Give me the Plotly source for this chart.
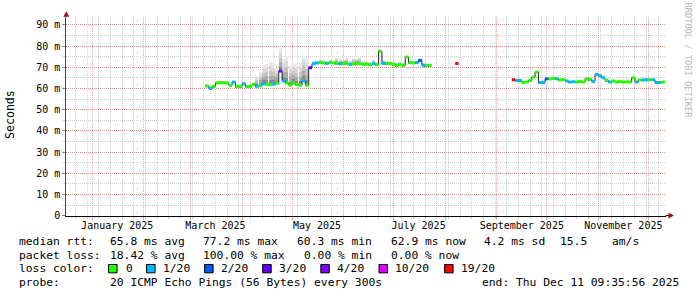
import plotly.graph_objects as go
import pandas as pd

W, H = 697, 297
YS = 4.0  # vertical correction


def px(x):
    return x / W


def py(y):
    return 1 - (y + YS) / H


# ---------------- data ----------------
x_start = "2024-12-16 09:35:56"
x_end = "2025-12-11 09:35:56"

seg1_start = "2025-03-11"
seg1_median = [61.2, 60.1, 61.0, 62.6, 62.8, 62.8, 62.6, 61.5, 63.0, 61.0,
               61.0, 62.2, 60.9, 61.0, 61.8, 61.0, 61.2, 62.2, 62.0, 61.7,
               62.0, 62.3, 68.2, 63.5, 62.5, 61.5, 62.5, 61.8, 61.5, 63.5,
               61.5, 69.8, 71.6, 72.0, 72.3, 72.0, 71.8, 72.2, 72.0, 71.9,
               71.6, 71.9, 71.7, 71.3, 71.5, 71.9, 71.6, 71.3, 71.5, 71.2,
               71.6, 71.3, 77.5, 71.7, 71.9, 71.7, 71.4, 71.0, 71.2, 71.0,
               74.8, 72.2, 72.0, 72.2, 73.3, 71.0, 70.8, 70.9]
seg1_loss = [0, 1, 0, 0, 0, 0, 0, 0, 1, 0,
             0, 1, 0, 0, 0, 1, 0, 1, 0, 0,
             1, 0, 4, 1, 0, 0, 0, 0, 0, 1,
             0, 3, 1, 1, 0, 0, 1, 0, 0, 0,
             1, 0, 0, 1, 0, 0, 0, 0, 0, 0,
             1, 0, 0, 1, 0, 0, 0, 0, 0, 0,
             0, 0, 0, 1, 2, 1, 0, 0]
seg1_smoke_hi = [61.8, 60.8, 61.6, 63.2, 63.4, 63.4, 63.2, 62.2, 63.6, 61.6,
                 61.7, 62.8, 61.6, 61.8, 62.8, 66.0, 68.0, 71.0, 71.5, 72.8,
                 72.0, 70.0, 79.0, 74.0, 75.5, 71.0, 72.0, 71.5, 72.0, 76.0,
                 74.5, 70.5, 72.8, 73.0, 73.5, 73.2, 72.8, 73.5, 73.0, 74.5,
                 74.0, 73.5, 74.5, 73.0, 74.5, 74.0, 75.0, 73.0, 72.5, 72.2,
                 73.5, 72.3, 78.0, 73.5, 72.8, 72.5, 72.3, 72.0, 72.4, 71.8,
                 75.4, 73.0, 72.8, 73.0, 73.8, 71.8, 71.5, 71.5]

lone_dates = ["2025-08-08"]
lone_median = [71.7]
lone_loss = [19]

seg2_start = "2025-09-11"
seg2_median = [64.1, 63.7, 63.7, 62.8, 63.0, 63.7, 65.4, 67.8, 62.8, 62.9,
               64.6, 64.5, 64.8, 64.6, 64.0, 64.2, 63.5, 63.0, 63.2, 63.0,
               63.4, 63.0, 64.6, 64.4, 63.4, 66.6, 66.0, 65.0, 63.8, 63.0,
               63.5, 63.0, 63.3, 63.0, 63.2, 63.0, 65.0, 63.0, 64.0, 64.0,
               64.1, 64.1, 64.1, 62.8, 62.8, 63.0]
seg2_loss = [19, 1, 1, 0, 0, 0, 0, 0, 1, 1,
             2, 0, 0, 1, 0, 0, 1, 1, 1, 0,
             0, 0, 0, 0, 1, 1, 1, 1, 0, 1,
             0, 0, 0, 0, 0, 0, 0, 1, 0, 1,
             1, 0, 1, 1, 1, 0]
seg2_smoke_hi = [64.4, 64.0, 64.0, 63.2, 63.4, 64.1, 65.9, 68.2, 63.2, 63.3,
                 65.0, 64.9, 65.2, 65.0, 64.4, 64.6, 63.9, 63.4, 63.6, 63.4,
                 63.8, 63.4, 65.0, 64.8, 63.8, 67.0, 66.4, 65.4, 64.2, 63.4,
                 63.9, 63.4, 63.7, 63.4, 63.6, 63.4, 65.4, 63.4, 64.4, 64.4,
                 64.5, 64.5, 64.5, 63.2, 63.2, 63.4]

loss_levels = [0, 1, 2, 3, 4, 10, 19]
loss_labels = ["0", "1/20", "2/20", "3/20", "4/20", "10/20", "19/20"]
loss_colors = ["#26ff00", "#00b8ff", "#0059ff", "#5e00ff", "#7e00ff", "#dd00ff", "#ff0000"]

y_tickvals = [0, 10, 20, 30, 40, 50, 60, 70, 80, 90]
y_ticktext = ["0", "10 m", "20 m", "30 m", "40 m", "50 m", "60 m", "70 m", "80 m", "90 m"]

month_label_dates = ["2025-01-16", "2025-03-16", "2025-05-16", "2025-07-16",
                     "2025-09-16", "2025-11-16"]
month_labels = ["January 2025", "March 2025", "May 2025", "July 2025",
                "September 2025", "November 2025"]

stats_rtt = ["median rtt:", "65.8 ms avg", "77.2 ms max", "60.3 ms min",
             "62.9 ms now", "4.2 ms sd", "15.5", "am/s"]
stats_loss = ["packet loss:", "18.42 % avg", "100.00 % max", "0.00 % min", "0.00 % now"]
probe_text = ["probe:", "20 ICMP Echo Pings (56 Bytes) every 300s",
              "end: Thu Dec 11 09:35:56 2025"]

# ---------------- layout geometry ----------------
PX_L, PX_R = 66.3, 665.6
PY_B, PY_T = 215.3, 13.0
MONO = "DejaVu Sans Mono"
DAY = pd.Timedelta(days=1)

seg1_dates = pd.date_range(seg1_start, periods=len(seg1_median), freq="2D")
seg2_dates = pd.date_range(seg2_start, periods=len(seg2_median), freq="2D")


def bucket(loss):
    b = 0
    for i, lv in enumerate(loss_levels):
        if loss >= lv:
            b = i
    return b


fig = go.Figure()

# ---------------- smoke ----------------
smoke_cols = ["#8a8a8a", "#aaaaaa", "#c4c4c4", "#d9d9d9", "#eaeaea"]
for dates, med, hi in [(seg1_dates, seg1_median, seg1_smoke_hi),
                       (seg2_dates, seg2_median, seg2_smoke_hi)]:
    n = len(smoke_cols)
    for j in range(n - 1, -1, -1):
        xs, bases, hts = [], [], []
        for d, m, h in zip(dates, med, hi):
            span = h - m
            if span <= 0.3:
                continue
            lo = m + span * j / n
            xs.append(d)
            bases.append(m - 0.3 if j == 0 else lo)
            hts.append(span / n + (0.3 if j == 0 else 0))
        fig.add_trace(go.Bar(x=xs, y=hts, base=bases, width=1.8 * 86400000,
                             marker=dict(color=smoke_cols[j], line=dict(width=0)),
                             hoverinfo="skip", showlegend=False))

# ---------------- median dark line ----------------
lx, ly = [], []
for dates, med in [(seg1_dates, seg1_median), (seg2_dates, seg2_median)]:
    lx += list(dates) + [None]
    ly += list(med) + [None]
fig.add_trace(go.Scatter(x=lx, y=ly, mode="lines", line=dict(color="#202020", width=1, shape="hvh"),
                         connectgaps=False, hoverinfo="skip", showlegend=False))

# ---------------- coloured median segments ----------------
bx = {i: [] for i in range(len(loss_levels))}
by = {i: [] for i in range(len(loss_levels))}
all_pts = list(zip(seg1_dates, seg1_median, seg1_loss)) + \
    list(zip(pd.to_datetime(lone_dates), lone_median, lone_loss)) + \
    list(zip(seg2_dates, seg2_median, seg2_loss))
for d, m, l in all_pts:
    b = bucket(l)
    bx[b] += [d - DAY, d + DAY, None]
    by[b] += [m, m, None]
for b in bx:
    if bx[b]:
        fig.add_trace(go.Scatter(x=bx[b], y=by[b], mode="lines",
                                 line=dict(color=loss_colors[b], width=3),
                                 hoverinfo="skip", showlegend=False))

# invisible trace for label axis
fig.add_trace(go.Scatter(x=pd.to_datetime(month_label_dates), y=[0] * len(month_label_dates),
                         xaxis="x2", mode="markers", marker=dict(opacity=0),
                         hoverinfo="skip", showlegend=False))

grid_major = "rgba(225,80,80,0.5)"
grid_minor = "rgba(150,150,150,0.45)"

fig.update_layout(
    width=W, height=H, margin=dict(l=0, r=0, t=0, b=0),
    paper_bgcolor="white", plot_bgcolor="white",
    barmode="overlay", bargap=0, showlegend=False,
    font=dict(family=MONO, size=10, color="#000"),
    xaxis=dict(type="date", range=[x_start, x_end], domain=[px(PX_L), px(PX_R)],
               anchor="y", showticklabels=False,
               tick0="2025-01-01", dtick="M1",
               showgrid=True, gridcolor=grid_major, griddash="1px,1px", gridwidth=1,
               ticks="outside", ticklen=3, tickcolor=grid_major,
               minor=dict(tick0="2024-12-22", dtick=7 * 86400000, showgrid=True,
                          gridcolor=grid_minor, griddash="1px,1px", gridwidth=1,
                          ticks="outside", ticklen=2, tickcolor=grid_minor),
               showline=True, linecolor="#000", linewidth=1, zeroline=False,
               fixedrange=True),
    xaxis2=dict(type="date", range=[x_start, x_end], domain=[px(PX_L), px(PX_R)],
                overlaying="x", anchor="y", side="bottom",
                tickvals=pd.to_datetime(month_label_dates), ticktext=month_labels,
                showgrid=False, showline=False, zeroline=False, ticks="",
                tickfont=dict(family=MONO, size=10, color="#000"),
                ticklabelstandoff=2),
    yaxis=dict(range=[0, (PY_B - PY_T) / 2.156], domain=[py(PY_B), py(PY_T)],
               tickvals=y_tickvals, ticktext=y_ticktext,
               tickfont=dict(family=MONO, size=10, color="#000"),
               showgrid=True, gridcolor=grid_major, griddash="1px,1px", gridwidth=1,
               minor=dict(dtick=5, showgrid=True, gridcolor=grid_minor, griddash="1px,1px",
                          gridwidth=1, ticks="outside", ticklen=2, tickcolor=grid_minor),
               ticks="outside", ticklen=3, tickcolor="#888",
               showline=True, linecolor="#444", linewidth=1, zeroline=False,
               fixedrange=True),
)

shapes = []
# axis extensions and arrows
shapes.append(dict(type="line", xref="paper", yref="paper", x0=px(PX_L), x1=px(PX_L),
                   y0=py(PY_T), y1=py(10), line=dict(color="#444", width=1)))
shapes.append(dict(type="line", xref="paper", yref="paper", x0=px(PX_R), x1=px(669),
                   y0=py(PY_B), y1=py(PY_B), line=dict(color="#000", width=1)))
shapes.append(dict(type="path", xref="paper", yref="paper",
                   path=f"M {px(PX_L)} {py(7.5)} L {px(PX_L - 3)} {py(13)} L {px(PX_L + 3)} {py(13)} Z",
                   fillcolor="#a01010", line=dict(width=0)))
shapes.append(dict(type="path", xref="paper", yref="paper",
                   path=f"M {px(674)} {py(PY_B)} L {px(668.5)} {py(PY_B - 3)} L {px(668.5)} {py(PY_B + 3)} Z",
                   fillcolor="#a01010", line=dict(width=0)))

annotations = []
LFS = 11.3


def txt(s, x, y, **kw):
    d = dict(text=s, x=px(x), y=py(y), xref="paper", yref="paper", showarrow=False,
             xanchor="left", yanchor="middle", font=dict(family=MONO, size=LFS, color="#000"))
    d.update(kw)
    annotations.append(d)


for s, x in zip(stats_rtt, [16.5, 108, 201, 295, 389, 482, 558, 610]):
    txt(s, x, 241.5)
for s, x in zip(stats_loss, [16.5, 108, 201, 302, 389]):
    txt(s, x, 255.5)
txt("loss color:", 16.5, 269.3)
sw_x = [108.6, 146.6, 204.6, 262.7, 320.8, 379, 444.6]
lb_x = [124, 161, 219, 277, 335, 393, 459]
for c, lab, sx, lx_ in zip(loss_colors, loss_labels, sw_x, lb_x):
    shapes.append(dict(type="rect", xref="paper", yref="paper", x0=px(sx), x1=px(sx + 8.5),
                       y0=py(273.5), y1=py(265), fillcolor=c, line=dict(color="#000", width=1)))
    txt(lab, lx_, 269.3)
for s, x in zip(probe_text, [16.5, 108, 480]):
    txt(s, x, 283)

# axis title and watermark
annotations.append(dict(text="Seconds", x=px(10), y=py(113), xref="paper", yref="paper",
                        showarrow=False, textangle=-90, xanchor="center", yanchor="middle",
                        font=dict(family=MONO, size=11.6, color="#000")))
annotations.append(dict(text="RRDTOOL / TOBI OETIKER", x=px(688.5), y=py(57), xref="paper",
                        yref="paper", showarrow=False, textangle=90, xanchor="center",
                        yanchor="middle", font=dict(family=MONO, size=8.7, color="#b8b8b8")))

fig.update_layout(shapes=shapes, annotations=annotations)
fig.write_html("out.html")
